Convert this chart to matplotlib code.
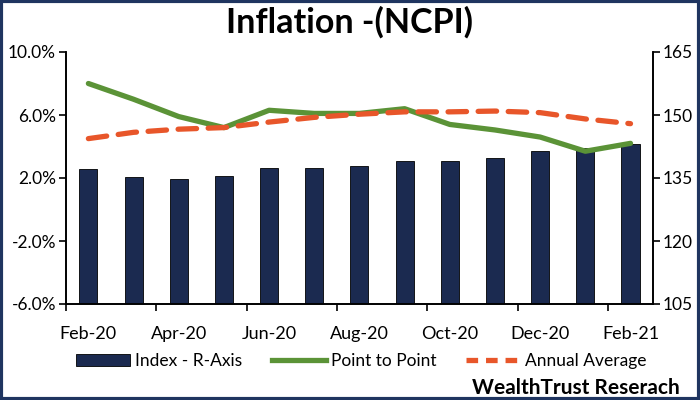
import matplotlib
matplotlib.use("Agg")
import matplotlib.pyplot as plt
from matplotlib.patches import Rectangle, Patch
from matplotlib.lines import Line2D
from matplotlib.ticker import FuncFormatter

plt.rcParams["font.family"] = ["Lato", "DejaVu Sans"]

months = ["Feb-20", "Mar-20", "Apr-20", "May-20", "Jun-20", "Jul-20", "Aug-20",
          "Sep-20", "Oct-20", "Nov-20", "Dec-20", "Jan-21", "Feb-21"]
index_r = [137.1, 135.2, 134.8, 135.5, 137.5, 137.5, 137.9,
           139.1, 139.1, 139.8, 141.4, 142.2, 143.0]
point_to_point = [8.0, 7.0, 5.9, 5.2, 6.3, 6.1, 6.1, 6.4, 5.4, 5.05, 4.6, 3.7, 4.2]
annual_avg = [4.5, 4.9, 5.1, 5.2, 5.55, 5.85, 6.05, 6.2, 6.2, 6.25, 6.15, 5.75, 5.45]

navy = "#1b2a50"
green = "#5b9337"
orange = "#e8562a"

fig = plt.figure(figsize=(7, 4), dpi=100)
ax = fig.add_axes([0.094, 0.24, 0.839, 0.63])
ax2 = ax.twinx()

x = list(range(len(months)))
ax2.bar(x, index_r, width=0.4, color=navy, edgecolor="black", linewidth=0.6, zorder=1)
ax2.set_ylim(105, 165)
ax2.set_yticks([105, 120, 135, 150, 165])

# lines drawn on top of the bars
ax.set_zorder(ax2.get_zorder() + 1)
ax.patch.set_visible(False)
ax.plot(x, point_to_point, color=green, linewidth=3.8, solid_capstyle="round")
ax.plot(x, annual_avg, color=orange, linewidth=3.8, dashes=(3.5, 2.2),
        dash_capstyle="round")
ax.set_ylim(-6, 10)
ax.set_yticks([-6, -2, 2, 6, 10])
ax.yaxis.set_major_formatter(FuncFormatter(lambda v, _: f"{v:.1f}%"))
ax.set_xlim(-0.5, len(months) - 0.5)

ax.set_xticks([i - 0.5 for i in range(0, len(months), 2)])
ax.set_xticklabels([])
ax.set_xticks(x[::2], minor=True)
ax.set_xticklabels(months[::2], minor=True)
ax.tick_params(axis="x", which="minor", length=0, pad=16, labelsize=13)
ax.tick_params(axis="x", which="major", length=5, width=1.2)
ax.tick_params(axis="y", length=5, width=1.2, labelsize=12.5, pad=2)
ax2.tick_params(axis="y", length=5, width=1.2, labelsize=12.5, pad=2)

for a in (ax, ax2):
    a.spines["top"].set_visible(False)
    for s in ("left", "right", "bottom"):
        a.spines[s].set_linewidth(1.2)

fig.text(0.5, 0.945, "Inflation -(NCPI)", ha="center", va="center",
         fontsize=24.5, fontweight="bold")

handles = [
    Patch(facecolor=navy, edgecolor="black", linewidth=0.6),
    Line2D([0], [0], color=green, linewidth=3.8),
    Line2D([0], [0], color=orange, linewidth=3.8, dashes=(2.2, 1.5)),
]
labels = ["Index - R-Axis", "Point to Point", "Annual Average"]
fig.legend(handles, labels, loc="center", bbox_to_anchor=(0.516, 0.098), ncol=3,
           frameon=False, fontsize=12.5, handlelength=3.1, handletextpad=0.3,
           columnspacing=1.7, borderpad=0, borderaxespad=0)

fig.text(0.971, 0.03, "WealthTrust Reserach", ha="right", va="center",
         fontsize=15, fontweight="bold")

fig.patches.append(Rectangle((0.002, 0.003), 0.996, 0.994, transform=fig.transFigure,
                             fill=False, edgecolor="#1f3560", linewidth=3))

fig.savefig("out.png", dpi=100)
